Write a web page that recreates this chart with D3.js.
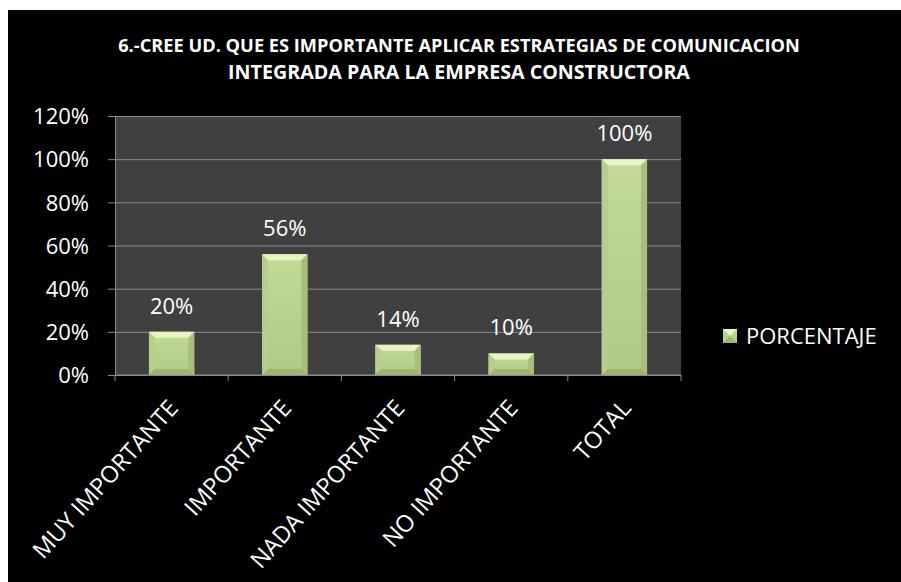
<!DOCTYPE html>
<html>
<head>
<meta charset="utf-8">
<script src="https://cdn.jsdelivr.net/npm/d3@7"></script>
<style>
  html, body { margin: 0; padding: 0; background: #fff; }
  svg { display: block; }
  text { font-family: "Open Sans", "Noto Sans", sans-serif; fill: #fff; }
</style>
</head>
<body>
<svg id="chart" width="901" height="582"></svg>
<script>
"use strict";

// chart data
const categories = ["MUY IMPORTANTE", "IMPORTANTE", "NADA IMPORTANTE", "NO IMPORTANTE", "TOTAL"];
const porcentaje = [0.20, 0.56, 0.14, 0.10, 1.00];
const yTicks = [0, 0.2, 0.4, 0.6, 0.8, 1.0, 1.2];
const titleLines = [
  "6.-CREE UD. QUE ES IMPORTANTE APLICAR ESTRATEGIAS DE COMUNICACION",
  "INTEGRADA PARA LA EMPRESA CONSTRUCTORA"
];
const seriesName = "PORCENTAJE";

const svg = d3.select('#chart');
const plot = {left: 115, right: 681, top: 116, bottom: 375};

// black chart background
svg.append('rect').attr('x', 8).attr('y', 10).attr('width', 893).attr('height', 572).attr('fill', '#000');

// bar gradient
const defs = svg.append('defs');
{
  const g = defs.append('linearGradient').attr('id', 'barFace').attr('x1', 0).attr('x2', 0).attr('y1', 0).attr('y2', 1);
  g.append('stop').attr('offset', '0%').attr('stop-color', '#c3da98');
  g.append('stop').attr('offset', '100%').attr('stop-color', '#afc986');
}

const x = d3.scaleBand().domain(categories).range([plot.left, plot.right]).paddingInner(0.6).paddingOuter(0.3);
const y = d3.scaleLinear().domain([0, 1.2]).range([plot.bottom, plot.top]);
const fmt = d3.format('.0%');

// plot area
svg.append('rect')
  .attr('x', plot.left).attr('y', plot.top)
  .attr('width', plot.right - plot.left).attr('height', plot.bottom - plot.top)
  .attr('fill', '#404040');

// y axis with gridlines
const yAxis = svg.append('g')
  .attr('transform', `translate(${plot.left},0)`)
  .call(d3.axisLeft(y).tickValues(yTicks).tickFormat(fmt).tickSize(-(plot.right - plot.left)).tickSizeOuter(0).tickPadding(26));
yAxis.select('.domain').attr('stroke', '#8a8a8a');
yAxis.selectAll('.tick line').attr('stroke', '#8a8a8a').attr('x1', -7);
yAxis.selectAll('.tick text').attr('fill', '#fff').attr('font-size', 22)
  .attr('font-family', '"Open Sans", sans-serif').attr('x', -26).attr('dy', '0.35em');

// x axis: ticks at category boundaries
const xAxis = svg.append('g').attr('transform', `translate(0,${plot.bottom})`);
xAxis.append('line').attr('x1', plot.left).attr('x2', plot.right).attr('stroke', '#8a8a8a');
const bounds = categories.map(c => x(c) - x.step() * x.paddingInner() / 2);
bounds.push(plot.right);
xAxis.selectAll('line.tk').data(bounds).enter().append('line').attr('class', 'tk')
  .attr('x1', d => d).attr('x2', d => d).attr('y1', 0).attr('y2', 6).attr('stroke', '#8a8a8a');

xAxis.selectAll('text.lab').data(categories).enter().append('text').attr('class', 'lab')
  .attr('text-anchor', 'end')
  .attr('font-size', 23.5)
  .attr('transform', d => `translate(${x(d) + x.bandwidth() / 2 + 8},${34}) rotate(-48)`)
  .text(d => d);

// bars with bevel
const bev = 6;
const bars = svg.append('g').selectAll('g').data(categories).enter().append('g');
bars.each(function (c, i) {
  const g = d3.select(this);
  const x0 = x(c), x1 = x(c) + x.bandwidth();
  const y0 = y(porcentaje[i]), y1 = y(0);
  const b = Math.min(bev, (y1 - y0) / 2);
  g.append('rect').attr('x', x0).attr('y', y0).attr('width', x1 - x0).attr('height', y1 - y0).attr('fill', 'url(#barFace)');
  // top
  g.append('polygon').attr('points', [[x0, y0], [x1, y0], [x1 - b, y0 + b], [x0 + b, y0 + b]].join(' ')).attr('fill', '#e8f5c1');
  // left
  g.append('polygon').attr('points', [[x0, y0], [x0 + b, y0 + b], [x0 + b, y1 - b], [x0, y1]].join(' ')).attr('fill', '#b6cf8c');
  // right
  g.append('polygon').attr('points', [[x1, y0], [x1 - b, y0 + b], [x1 - b, y1 - b], [x1, y1]].join(' ')).attr('fill', '#a7bf7c');
  // bottom
  g.append('polygon').attr('points', [[x0, y1], [x0 + b, y1 - b], [x1 - b, y1 - b], [x1, y1]].join(' ')).attr('fill', '#9cb474');
});

// value labels
svg.append('g').selectAll('text').data(categories).enter().append('text')
  .attr('x', d => x(d) + x.bandwidth() / 2)
  .attr('y', (d, i) => y(porcentaje[i]) - 18)
  .attr('text-anchor', 'middle')
  .attr('font-size', 22)
  .text((d, i) => fmt(porcentaje[i]));

// title, scaled to the reference line widths
const title = svg.append('g');
const titleWidths = [682, 462];
titleLines.forEach((t, i) => {
  const el = title.append('text')
    .attr('x', 459).attr('y', 52 + i * 27)
    .attr('text-anchor', 'middle')
    .attr('font-weight', 'bold')
    .attr('font-size', 16)
    .text(t);
  const w = el.node().getComputedTextLength();
  el.attr('font-size', 16 * titleWidths[i] / w);
});

// legend
const lg = svg.append('g').attr('transform', 'translate(723,329)');
lg.append('rect').attr('width', 14).attr('height', 14).attr('fill', 'url(#barFace)');
lg.append('polygon').attr('points', '0,0 14,0 7,7').attr('fill', '#e8f5c1');
lg.append('polygon').attr('points', '0,14 14,14 7,7').attr('fill', '#9cb474');
lg.append('text').attr('x', 23).attr('y', 14.5).attr('font-size', 22).text(seriesName);
</script>
</body>
</html>
